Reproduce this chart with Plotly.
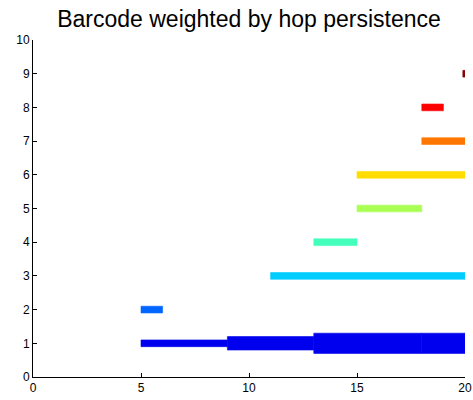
import plotly.graph_objects as go

# Barcode intervals: dimension index, birth, death, weight (hop persistence)
bar_index = [1, 1, 1, 1, 2, 3, 4, 5, 6, 7, 8, 9]
bar_start = [5, 9, 13, 18, 5, 11, 13, 15, 15, 18, 18, 19.9]
bar_end = [9, 13, 18, 20, 6, 20, 15, 18, 20, 20, 19, 20]
bar_weight = [1, 2, 3, 3, 1, 1, 1, 1, 1, 1, 1, 1]
bar_colors = [
    "#0000EE", "#0000EE", "#0000EE", "#0000EE",
    "#0066FF", "#00CCFF", "#44FFBB", "#AAFF55",
    "#FFDD00", "#FF7700", "#FF0000", "#880000",
]

x_ticks = [0, 5, 10, 15, 20]
y_ticks = list(range(0, 11))

base_width = 0.2  # bar thickness (data units) for unit weight

fig = go.Figure(
    go.Bar(
        orientation="h",
        y=bar_index,
        base=bar_start,
        x=[e - s for s, e in zip(bar_start, bar_end)],
        width=[base_width * w for w in bar_weight],
        marker=dict(color=bar_colors, line=dict(width=0.6, color=bar_colors)),
        hoverinfo="skip",
        cliponaxis=False,
    )
)

axis_common = dict(
    showgrid=False,
    zeroline=False,
    showline=True,
    linecolor="black",
    linewidth=1,
    ticks="inside",
    ticklen=4,
    tickcolor="black",
    automargin=False,
    tickfont=dict(family="Liberation Sans, Arial, sans-serif", size=12, color="black"),
)

fig.update_layout(
    width=473,
    height=400,
    margin=dict(l=33, r=8, t=40, b=23),
    paper_bgcolor="white",
    plot_bgcolor="white",
    showlegend=False,
    barmode="overlay",
    title=dict(
        text="Barcode weighted by hop persistence",
        x=(33 + 465) / 2 / 473,
        xanchor="center",
        y=1 - 19 / 400,
        yanchor="middle",
        automargin=False,
        font=dict(family="Liberation Sans, Arial, sans-serif", size=23, color="black"),
    ),
    xaxis=dict(range=[0, 20], tickvals=x_ticks, **axis_common),
    yaxis=dict(range=[0, 10], tickvals=y_ticks, **axis_common),
)

fig.write_html("out.html")
